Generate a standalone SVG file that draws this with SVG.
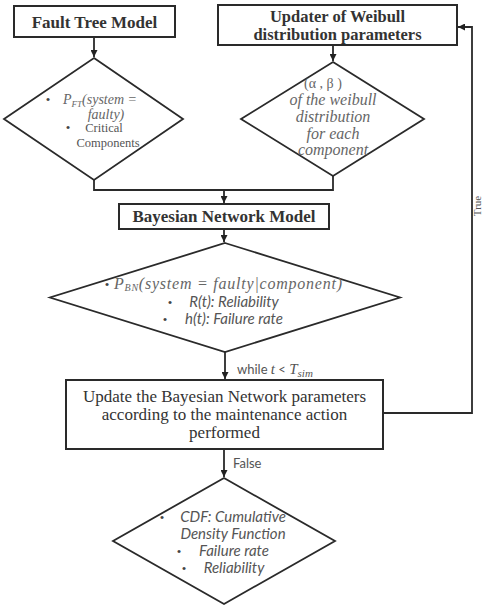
<svg xmlns="http://www.w3.org/2000/svg" width="485" height="608" viewBox="0 0 485 608">
<defs>
<marker id="ah" viewBox="0 0 10 10" refX="10" refY="5" markerWidth="7" markerHeight="7" markerUnits="userSpaceOnUse" orient="auto">
<path d="M0,0 L10,5 L0,10 z" fill="#222"/>
</marker>
<style>
.box{fill:#fff;stroke:#2a2a2a;stroke-width:2}
.dia{fill:#fff;stroke:#2a2a2a;stroke-width:1.8}
.ln{fill:none;stroke:#2a2a2a;stroke-width:1.8}
.tb{font-family:"Liberation Serif",serif;font-weight:bold;font-size:17px;fill:#333;text-anchor:middle}
.tr{font-family:"Liberation Serif",serif;font-size:17px;fill:#333;text-anchor:middle}
.mi{font-family:"Liberation Serif",serif;font-style:italic;fill:#666;text-anchor:middle}
.ci{font-family:Lato,"Liberation Sans",sans-serif;font-style:italic;font-size:15px;fill:#555;text-anchor:middle}
.cs{font-family:Lato,"Liberation Sans",sans-serif;font-size:13px;fill:#555}
.bl{font-family:"Liberation Serif",serif;font-size:13px;fill:#444;text-anchor:middle}
</style>
</defs>
<rect width="485" height="608" fill="#fff"/>
<g id="connectors">
<path class="ln" d="M94,37 V57" marker-end="url(#ah)"/>
<path class="ln" d="M333,45 V61" marker-end="url(#ah)"/>
<path class="ln" d="M94,180 V190 H333 V176"/>
<path class="ln" d="M224,190 V203" marker-end="url(#ah)"/>
<path class="ln" d="M224,229 V242" marker-end="url(#ah)"/>
<path class="ln" d="M225,352 V379" marker-end="url(#ah)"/>
<path class="ln" d="M383,413 H472 V27 H458" marker-end="url(#ah)"/>
<path class="ln" d="M224,449 V477" marker-end="url(#ah)"/>
<text class="cs" x="237" y="374">while <tspan font-family="Liberation Serif" font-style="italic" font-size="15">t</tspan> &lt; <tspan font-family="Liberation Serif" font-style="italic" font-size="15">T</tspan><tspan font-family="Liberation Serif" font-style="italic" font-size="11" dy="3">sim</tspan></text>
<text class="cs" x="233" y="468">False</text>
<text font-family="Liberation Serif" font-size="11" fill="#555" text-anchor="middle" transform="translate(481,206) rotate(-90)">True</text>
</g>
<g id="fault-tree-model">
<rect class="box" x="14" y="6" width="161" height="31"/>
<text class="tb" x="94.5" y="28">Fault Tree Model</text>
</g>
<g id="updater-weibull">
<rect class="box" x="218" y="5" width="239" height="40"/>
<text class="tb" x="337.5" y="22" style="font-size:16.5px">Updater of Weibull</text>
<text class="tb" x="337.5" y="40" style="font-size:16.5px">distribution parameters</text>
</g>
<g id="ft-output">
<polygon class="dia" points="94,58 183,119 94,180 4,119"/>
<text class="bl" x="48" y="104">•</text>
<text class="mi" x="100" y="104" style="font-size:14px"><tspan>P</tspan><tspan style="font-size:9px" dy="3">FT</tspan><tspan dy="-3">(system =</tspan></text>
<text class="mi" x="106" y="119" style="font-size:14px">faulty)</text>
<text class="bl" x="68" y="132">•</text>
<text class="tr" x="104" y="132" style="font-size:12.5px;fill:#555">Critical</text>
<text class="tr" x="108" y="147" style="font-size:12.5px;fill:#555">Components</text>
</g>
<g id="weibull-output">
<polygon class="dia" points="333,62 424,119 333,176 241,119"/>
<text class="mi" x="323" y="88" style="font-size:14px;font-style:normal">(α , β )</text>
<text class="mi" x="333" y="105" style="font-size:16px">of the weibull</text>
<text class="mi" x="333" y="122" style="font-size:16px">distribution</text>
<text class="mi" x="333" y="139" style="font-size:16px">for each</text>
<text class="mi" x="333" y="155" style="font-size:16px">component</text>
</g>
<g id="bayesian-network-model">
<rect class="box" x="119" y="204" width="210" height="25"/>
<text class="tb" x="224" y="222">Bayesian Network Model</text>
</g>
<g id="bn-output">
<polygon class="dia" points="225,243 400,297.5 225,352 50,297.5"/>
<text class="bl" x="107" y="289">•</text>
<text class="mi" x="228" y="289" style="font-size:16px" textLength="228" lengthAdjust="spacing"><tspan>P</tspan><tspan style="font-size:10px" dy="2">BN</tspan><tspan dy="-2">(system = faulty|component)</tspan></text>
<text class="bl" x="170" y="307">•</text>
<text class="ci" x="234" y="307">R(t): Reliability</text>
<text class="bl" x="165" y="324">•</text>
<text class="ci" x="234" y="324">h(t): Failure rate</text>
</g>
<g id="update-bn-params">
<rect class="box" x="66" y="380" width="317" height="69"/>
<text class="tr" x="224.5" y="402">Update the Bayesian Network parameters</text>
<text class="tr" x="224.5" y="420">according to the maintenance action</text>
<text class="tr" x="224.5" y="438">performed</text>
</g>
<g id="final-output">
<polygon class="dia" points="224,478 335,541 224,604 113,541"/>
<text class="bl" x="162" y="522">•</text>
<text class="ci" x="233" y="522">CDF: Cumulative</text>
<text class="ci" x="233" y="539">Density Function</text>
<text class="bl" x="179" y="556">•</text>
<text class="ci" x="234" y="556">Failure rate</text>
<text class="bl" x="184" y="573">•</text>
<text class="ci" x="234" y="573">Reliability</text>
</g>
</svg>
